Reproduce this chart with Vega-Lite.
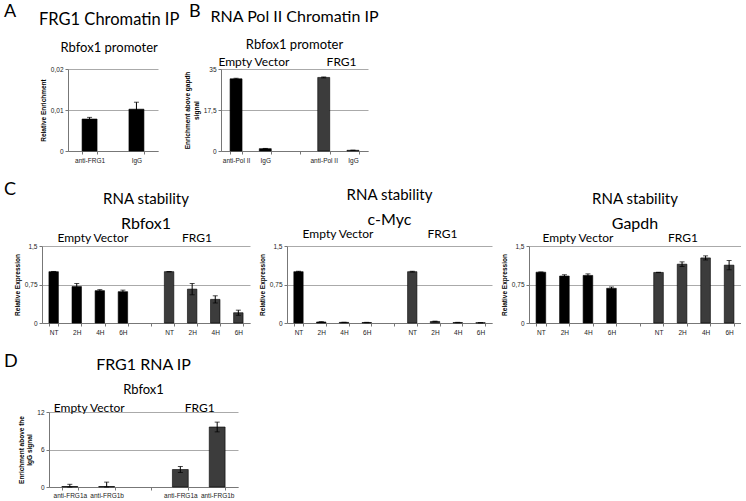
{
  "$schema": "https://vega.github.io/schema/vega-lite/v6.json",
  "padding": {"left": 4, "top": 3, "right": 0, "bottom": 0},
  "config": {
    "view": {"stroke": null},
    "font": "Lato",
    "axis": {
      "labelFont": "Liberation Sans", "labelFontSize": 6.5, "labelColor": "#222",
      "titleFont": "Liberation Sans", "titleFontSize": 6.5, "titleFontWeight": "bold", "titleColor": "#000",
      "domainColor": "#777", "tickColor": "#777", "tickSize": 3,
      "gridColor": "#aaa", "gridWidth": 1
    },
    "axisX": {"grid": false, "labelAngle": 0, "labelPadding": 3, "tickBand": "extent"},
    "axisY": {"grid": true, "labelPadding": 2, "titlePadding": 4},
    "title": {"font": "Lato", "fontSize": 16, "fontWeight": "normal", "color": "#000", "subtitleFont": "Lato", "subtitleFontSize": 13, "subtitleColor": "#000", "subtitlePadding": 8, "frame": "group", "anchor": "middle"},
    "text": {"font": "Lato", "fontSize": 12, "color": "#000"}
  },
  "spacing": 17,
  "vconcat": [
    {
      "bounds": "flush",
      "spacing": 31,
      "hconcat": [
        {
          "width": 33, "height": 60,
          "title": {"text": "A", "anchor": "start", "frame": "group", "fontSize": 18, "offset": 48},
          "data": {"values": []}, "mark": "point", "encoding": {}
        },
        {
          "width": 90, "height": 82,
          "title": {"text": "FRG1 Chromatin IP", "subtitle": "Rbfox1 promoter", "fontSize": 16.5, "subtitleFontSize": 13, "subtitlePadding": 14, "offset": 11, "frame": "bounds", "anchor": "middle", "align": "center", "dx": 10},
          "data": {"values": [
            {"cat": "anti-FRG1", "group": "EV", "value": 0.0078, "err": 0.0004},
            {"cat": "IgG", "group": "EV", "value": 0.0102, "err": 0.0017}
          ]},
          "encoding": {
            "x": {"field": "cat", "type": "nominal", "sort": null, "title": null, "scale": {"paddingInner": 0.68, "paddingOuter": 0.3}},
            "y": {"field": "value", "type": "quantitative", "scale": {"domain": [0, 0.02]},
                  "axis": {"values": [0, 0.01, 0.02], "title": "Relative Enrichment", "labelExpr": "replace(format(datum.value, '~g'), '.', ',')"}}
          },
          "layer": [
            {"mark": {"type": "bar", "stroke": "#000", "strokeWidth": 0.6},
             "encoding": {"color": {"field": "group", "type": "nominal", "scale": {"domain": ["EV", "FRG1"], "range": ["#000000", "#3c3c3c"]}, "legend": null}}},
            {"mark": {"type": "errorbar", "ticks": {"size": 5}, "color": "#000"},
             "encoding": {"yError": {"field": "err"}}}
          ]
        },
        {
          "width": 1, "height": 60,
          "title": {"text": "B", "anchor": "start", "frame": "group", "fontSize": 18, "offset": 48},
          "data": {"values": []}, "mark": "point", "encoding": {}
        },
        {
          "width": 147, "height": 82,
          "title": {"text": "RNA Pol II Chromatin IP", "subtitle": "Rbfox1 promoter", "subtitlePadding": 14, "offset": 4},
          "data": {"values": [
            {"cat": "EV|anti-Pol II", "group": "EV", "value": 30.8, "err": 0.25},
            {"cat": "EV|IgG", "group": "EV", "value": 1.0, "err": 0.1, "lab": "Empty Vector"},
            {"cat": "FRG1|anti-Pol II", "group": "FRG1", "value": 31.4, "err": 0.2},
            {"cat": "FRG1|IgG", "group": "FRG1", "value": 0.3, "err": 0.05, "lab": "FRG1"}
          ]},
          "encoding": {
            "x": {"field": "cat", "type": "nominal", "title": null,
                  "scale": {"domain": ["EV|anti-Pol II", "EV|IgG", "gap|", "FRG1|anti-Pol II", "FRG1|IgG"], "paddingInner": 0.59, "paddingOuter": 0.31},
                  "axis": {"labelExpr": "split(datum.value, '|')[1]"}},
            "y": {"field": "value", "type": "quantitative", "scale": {"domain": [0, 35]},
                  "axis": {"values": [0, 17.5, 35], "title": ["Enrichment above gapdh", "signal"], "labelExpr": "replace(format(datum.value, '~g'), '.', ',')"}}
          },
          "layer": [
            {"mark": {"type": "bar", "stroke": "#000", "strokeWidth": 0.6},
             "encoding": {"color": {"field": "group", "type": "nominal", "scale": {"domain": ["EV", "FRG1"], "range": ["#000000", "#3c3c3c"]}, "legend": null}}},
            {"mark": {"type": "errorbar", "ticks": {"size": 5}, "color": "#000"},
             "encoding": {"yError": {"field": "err"}}},
            {"transform": [{"filter": "isValid(datum.lab)"}],
             "mark": {"type": "text", "fontSize": 12, "baseline": "alphabetic", "color": "#000"},
             "encoding": {"x": {"field": "cat", "type": "nominal", "title": null, "bandPosition": -0.45},
                          "y": {"datum": 36.2}, "text": {"field": "lab", "type": "nominal"}}}
          ]
        }
      ]
    },
    {
      "bounds": "flush",
      "spacing": 37,
      "hconcat": [
        {
          "width": 1, "height": 60,
          "title": {"text": "C", "anchor": "start", "frame": "group", "fontSize": 18, "offset": 47},
          "data": {"values": []}, "mark": "point", "encoding": {}
        },
        {
          "width": 208, "height": 77,
          "title": {"text": "RNA stability", "subtitle": "Rbfox1", "subtitleFontSize": 16, "fontSize": 15, "subtitlePadding": 9, "offset": 0},
          "data": {"values": [
            {"cat": "EV|NT", "group": "EV", "value": 1.0, "err": 0.004},
            {"cat": "EV|2H", "group": "EV", "value": 0.71, "err": 0.06, "lab": "Empty Vector"},
            {"cat": "EV|4H", "group": "EV", "value": 0.63, "err": 0.02},
            {"cat": "EV|6H", "group": "EV", "value": 0.61, "err": 0.03},
            {"cat": "FRG1|NT", "group": "FRG1", "value": 1.0, "err": 0.003},
            {"cat": "FRG1|2H", "group": "FRG1", "value": 0.66, "err": 0.11, "lab": "FRG1"},
            {"cat": "FRG1|4H", "group": "FRG1", "value": 0.46, "err": 0.07},
            {"cat": "FRG1|6H", "group": "FRG1", "value": 0.2, "err": 0.05}
          ]},
          "encoding": {
            "x": {"field": "cat", "type": "nominal", "title": null,
                  "scale": {"domain": ["EV|NT", "EV|2H", "EV|4H", "EV|6H", "gap|", "FRG1|NT", "FRG1|2H", "FRG1|4H", "FRG1|6H"], "paddingInner": 0.59, "paddingOuter": 0.3},
                  "axis": {"labelExpr": "split(datum.value, '|')[1]"}},
            "y": {"field": "value", "type": "quantitative", "scale": {"domain": [0, 1.5]},
                  "axis": {"values": [0, 0.75, 1.5], "title": "Relative Expression", "labelExpr": "replace(format(datum.value, '~g'), '.', ',')"}}
          },
          "layer": [
            {"mark": {"type": "bar", "stroke": "#000", "strokeWidth": 0.6},
             "encoding": {"color": {"field": "group", "type": "nominal", "scale": {"domain": ["EV", "FRG1"], "range": ["#000000", "#3c3c3c"]}, "legend": null}}},
            {"mark": {"type": "errorbar", "ticks": {"size": 5}, "color": "#000"},
             "encoding": {"yError": {"field": "err"}}},
            {"transform": [{"filter": "isValid(datum.lab) && datum.group == 'EV'"}],
             "mark": {"type": "text", "fontSize": 12, "baseline": "alphabetic", "color": "#000"},
             "encoding": {"x": {"field": "cat", "type": "nominal", "title": null, "bandPosition": 2.2},
                          "y": {"datum": 1.58}, "text": {"field": "lab", "type": "nominal"}}},
            {"transform": [{"filter": "isValid(datum.lab) && datum.group == 'FRG1'"}],
             "mark": {"type": "text", "fontSize": 12, "baseline": "alphabetic", "color": "#000"},
             "encoding": {"x": {"field": "cat", "type": "nominal", "title": null, "bandPosition": 1.0},
                          "y": {"datum": 1.58}, "text": {"field": "lab", "type": "nominal"}}}
          ]
        },
        {
          "width": 205, "height": 77,
          "title": {"text": "RNA stability", "subtitle": "c-Myc", "subtitleFontSize": 16, "fontSize": 15, "subtitlePadding": 9, "offset": 0},
          "data": {"values": [
            {"cat": "EV|NT", "group": "EV", "value": 1.0, "err": 0.008},
            {"cat": "EV|2H", "group": "EV", "value": 0.02, "err": 0.005, "lab": "Empty Vector"},
            {"cat": "EV|4H", "group": "EV", "value": 0.012, "err": 0.003},
            {"cat": "EV|6H", "group": "EV", "value": 0.01, "err": 0.003},
            {"cat": "FRG1|NT", "group": "FRG1", "value": 1.0, "err": 0.008},
            {"cat": "FRG1|2H", "group": "FRG1", "value": 0.03, "err": 0.006, "lab": "FRG1"},
            {"cat": "FRG1|4H", "group": "FRG1", "value": 0.01, "err": 0.003},
            {"cat": "FRG1|6H", "group": "FRG1", "value": 0.006, "err": 0.002}
          ]},
          "encoding": {
            "x": {"field": "cat", "type": "nominal", "title": null,
                  "scale": {"domain": ["EV|NT", "EV|2H", "EV|4H", "EV|6H", "gap|", "FRG1|NT", "FRG1|2H", "FRG1|4H", "FRG1|6H"], "paddingInner": 0.59, "paddingOuter": 0.3},
                  "axis": {"labelExpr": "split(datum.value, '|')[1]"}},
            "y": {"field": "value", "type": "quantitative", "scale": {"domain": [0, 1.5]},
                  "axis": {"values": [0, 0.75, 1.5], "title": "Relative Expression", "labelExpr": "replace(format(datum.value, '~g'), '.', ',')"}}
          },
          "layer": [
            {"mark": {"type": "bar", "stroke": "#000", "strokeWidth": 0.6},
             "encoding": {"color": {"field": "group", "type": "nominal", "scale": {"domain": ["EV", "FRG1"], "range": ["#000000", "#3c3c3c"]}, "legend": null}}},
            {"mark": {"type": "errorbar", "ticks": {"size": 5}, "color": "#000"},
             "encoding": {"yError": {"field": "err"}}},
            {"transform": [{"filter": "isValid(datum.lab) && datum.group == 'EV'"}],
             "mark": {"type": "text", "fontSize": 12, "baseline": "alphabetic", "color": "#000"},
             "encoding": {"x": {"field": "cat", "type": "nominal", "title": null, "bandPosition": 2.3},
                          "y": {"datum": 1.66}, "text": {"field": "lab", "type": "nominal"}}},
            {"transform": [{"filter": "isValid(datum.lab) && datum.group == 'FRG1'"}],
             "mark": {"type": "text", "fontSize": 12, "baseline": "alphabetic", "color": "#000"},
             "encoding": {"x": {"field": "cat", "type": "nominal", "title": null, "bandPosition": 1.3},
                          "y": {"datum": 1.66}, "text": {"field": "lab", "type": "nominal"}}}
          ]
        },
        {
          "width": 212, "height": 77,
          "title": {"text": "RNA stability", "subtitle": "Gapdh", "subtitleFontSize": 16, "fontSize": 15, "subtitlePadding": 9, "offset": 0},
          "data": {"values": [
            {"cat": "EV|NT", "group": "EV", "value": 0.99, "err": 0.004},
            {"cat": "EV|2H", "group": "EV", "value": 0.915, "err": 0.025, "lab": "Empty Vector"},
            {"cat": "EV|4H", "group": "EV", "value": 0.927, "err": 0.03},
            {"cat": "EV|6H", "group": "EV", "value": 0.676, "err": 0.025},
            {"cat": "FRG1|NT", "group": "FRG1", "value": 0.985, "err": 0.003},
            {"cat": "FRG1|2H", "group": "FRG1", "value": 1.146, "err": 0.045, "lab": "FRG1"},
            {"cat": "FRG1|4H", "group": "FRG1", "value": 1.268, "err": 0.04},
            {"cat": "FRG1|6H", "group": "FRG1", "value": 1.127, "err": 0.09}
          ]},
          "encoding": {
            "x": {"field": "cat", "type": "nominal", "title": null,
                  "scale": {"domain": ["EV|NT", "EV|2H", "EV|4H", "EV|6H", "gap|", "FRG1|NT", "FRG1|2H", "FRG1|4H", "FRG1|6H"], "paddingInner": 0.59, "paddingOuter": 0.3},
                  "axis": {"labelExpr": "split(datum.value, '|')[1]"}},
            "y": {"field": "value", "type": "quantitative", "scale": {"domain": [0, 1.5]},
                  "axis": {"values": [0, 0.75, 1.5], "title": "Relative Expression", "labelExpr": "replace(format(datum.value, '~g'), '.', ',')"}}
          },
          "layer": [
            {"mark": {"type": "bar", "stroke": "#000", "strokeWidth": 0.6},
             "encoding": {"color": {"field": "group", "type": "nominal", "scale": {"domain": ["EV", "FRG1"], "range": ["#000000", "#3c3c3c"]}, "legend": null}}},
            {"mark": {"type": "errorbar", "ticks": {"size": 5}, "color": "#000"},
             "encoding": {"yError": {"field": "err"}}},
            {"transform": [{"filter": "isValid(datum.lab) && datum.group == 'EV'"}],
             "mark": {"type": "text", "fontSize": 12, "baseline": "alphabetic", "color": "#000"},
             "encoding": {"x": {"field": "cat", "type": "nominal", "title": null, "bandPosition": 1.9},
                          "y": {"datum": 1.58}, "text": {"field": "lab", "type": "nominal"}}},
            {"transform": [{"filter": "isValid(datum.lab) && datum.group == 'FRG1'"}],
             "mark": {"type": "text", "fontSize": 12, "baseline": "alphabetic", "color": "#000"},
             "encoding": {"x": {"field": "cat", "type": "nominal", "title": null, "bandPosition": 0.6},
                          "y": {"datum": 1.58}, "text": {"field": "lab", "type": "nominal"}}}
          ]
        }
      ]
    },
    {
      "bounds": "flush",
      "spacing": 44,
      "hconcat": [
        {
          "width": 1, "height": 60,
          "title": {"text": "D", "anchor": "start", "frame": "group", "fontSize": 18, "offset": 41},
          "data": {"values": []}, "mark": "point", "encoding": {}
        },
        {
          "width": 189, "height": 75,
          "title": {"text": "FRG1 RNA IP", "subtitle": "Rbfox1", "subtitlePadding": 11, "offset": 5},
          "data": {"values": [
            {"cat": "EV|anti-FRG1a", "group": "EV", "value": 0.08, "err": 0.35},
            {"cat": "EV|anti-FRG1b", "group": "EV", "value": 0.08, "err": 0.7, "lab": "Empty Vector"},
            {"cat": "FRG1|anti-FRG1a", "group": "FRG1", "value": 2.8, "err": 0.48},
            {"cat": "FRG1|anti-FRG1b", "group": "FRG1", "value": 9.6, "err": 0.78, "lab": "FRG1"}
          ]},
          "encoding": {
            "x": {"field": "cat", "type": "nominal", "title": null,
                  "scale": {"domain": ["EV|anti-FRG1a", "EV|anti-FRG1b", "gap|", "FRG1|anti-FRG1a", "FRG1|anti-FRG1b"], "paddingInner": 0.57, "paddingOuter": 0.35},
                  "axis": {"labelExpr": "split(datum.value, '|')[1]", "labelPadding": 2}},
            "y": {"field": "value", "type": "quantitative", "scale": {"domain": [0, 12], "clamp": true},
                  "axis": {"values": [0, 6, 12], "title": ["Enrichment above the", "IgG signal"], "labelExpr": "replace(format(datum.value, '~g'), '.', ',')"}}
          },
          "layer": [
            {"mark": {"type": "bar", "stroke": "#000", "strokeWidth": 0.6},
             "encoding": {"color": {"field": "group", "type": "nominal", "scale": {"domain": ["EV", "FRG1"], "range": ["#000000", "#3c3c3c"]}, "legend": null}}},
            {"mark": {"type": "errorbar", "ticks": {"size": 5}, "color": "#000"},
             "encoding": {"yError": {"field": "err"}}},
            {"transform": [{"filter": "isValid(datum.lab)"}],
             "mark": {"type": "text", "fontSize": 12, "baseline": "alphabetic", "color": "#000"},
             "encoding": {"x": {"field": "cat", "type": "nominal", "title": null, "bandPosition": -0.6},
                          "y": {"datum": 13.7}, "text": {"field": "lab", "type": "nominal"}}}
          ]
        }
      ]
    }
  ]
}
